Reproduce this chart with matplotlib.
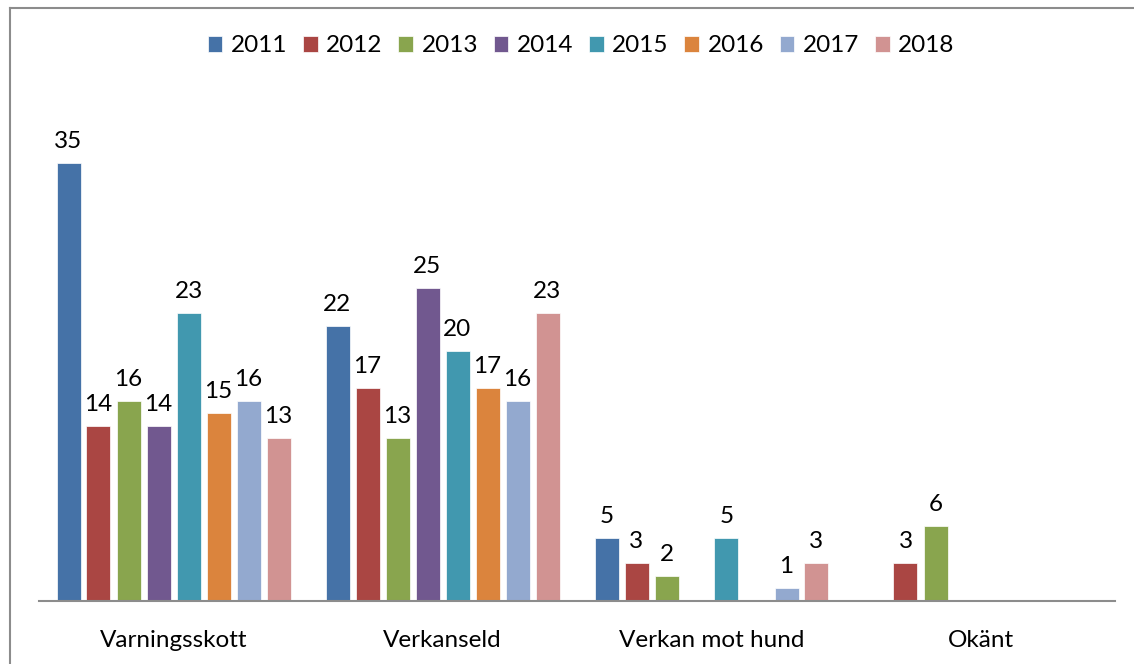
import numpy as np
import matplotlib
matplotlib.use("Agg")
import matplotlib.pyplot as plt
from matplotlib.lines import Line2D

categories = ["Varningsskott", "Verkanseld", "Verkan mot hund", "Okänt"]
years = ["2011", "2012", "2013", "2014", "2015", "2016", "2017", "2018"]
nan = np.nan
values = {
    "2011": [35, 22, 5, nan],
    "2012": [14, 17, 3, 3],
    "2013": [16, 13, 2, 6],
    "2014": [14, 25, nan, nan],
    "2015": [23, 20, 5, nan],
    "2016": [15, 17, nan, nan],
    "2017": [16, 16, 1, nan],
    "2018": [13, 23, 3, nan],
}
colors = ["#4572A7", "#AA4643", "#89A54E", "#71588F",
          "#4198AF", "#DB843D", "#93A9CF", "#D19392"]

plt.rcParams['font.family'] = ['Lato', 'DejaVu Sans']
FS = 17.5

W, H = 1134, 664
fig = plt.figure(figsize=(W / 100, H / 100), dpi=100)
# outer chart border (only left and top visible in the crop)
border = dict(transform=fig.transFigure, color="#8c8c8c", linewidth=1.5)
fig.lines.append(Line2D([9.5 / W, 9.5 / W], [0, (H - 8) / H], **border))
fig.lines.append(Line2D([9.5 / W, 1], [(H - 8) / H, (H - 8) / H], **border))

ax_left, ax_right = 39, 1115
ax_bottom = 601
ymax = 40
px_per_unit = 438 / 35
ax_top = ax_bottom - ymax * px_per_unit
ax = fig.add_axes([ax_left / W, (H - ax_bottom) / H,
                   (ax_right - ax_left) / W, (ax_bottom - ax_top) / H])

x = np.arange(len(categories))
step = 30 / 269
width = 24 / 269
for i, (yr, c) in enumerate(zip(years, colors)):
    vals = np.array(values[yr], dtype=float)
    pos = x + (i - 3.5) * step
    ax.bar(pos, np.nan_to_num(vals), width=width, color=c, label=yr,
           edgecolor="white", linewidth=0.5)
    for p, v in zip(pos, vals):
        if not np.isnan(v):
            ax.annotate(f"{int(v)}", (p, v), xytext=(0, 11),
                        textcoords="offset pixels", ha="center", va="bottom",
                        fontsize=FS)

ax.set_xlim(-0.5, len(categories) - 0.5)
ax.set_ylim(0, ymax)
ax.set_xticks(x)
ax.set_xticklabels(categories, fontsize=FS)
ax.tick_params(axis="x", length=0, pad=21)
ax.set_yticks([])
for s in ["top", "right", "left"]:
    ax.spines[s].set_visible(False)
ax.spines["bottom"].set_color("#8c8c8c")
ax.spines["bottom"].set_linewidth(1.5)

fig.legend(loc="center", bbox_to_anchor=(581 / W, (H - 46) / H), ncol=8,
           frameon=False, fontsize=FS, handlelength=0.6, handleheight=0.6,
           handletextpad=0.35, columnspacing=0.65)

fig.savefig("out.png", dpi=100)
